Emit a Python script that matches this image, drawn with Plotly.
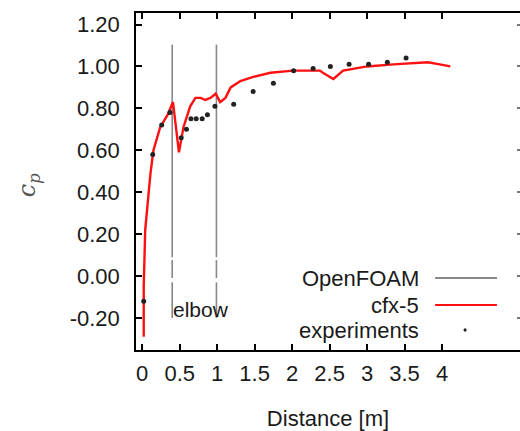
import plotly.graph_objects as go

# cfx-5 pressure coefficient curve
cfx_x = [0.02, 0.02, 0.04, 0.11, 0.15, 0.24, 0.34, 0.41, 0.49, 0.55, 0.64, 0.71, 0.78, 0.84,
         0.91, 0.98, 1.04, 1.11, 1.18, 1.31, 1.48, 1.71, 2.01, 2.37, 2.41, 2.51, 2.55, 2.68,
         3.00, 3.35, 3.71, 3.81, 3.97, 4.11]
cfx_y = [-0.29, -0.05, 0.22, 0.49, 0.60, 0.71, 0.77, 0.83, 0.59, 0.71, 0.81, 0.85, 0.85, 0.84,
         0.85, 0.87, 0.83, 0.85, 0.90, 0.93, 0.95, 0.97, 0.98, 0.98, 0.97, 0.95, 0.94, 0.98,
         1.00, 1.01, 1.02, 1.02, 1.01, 1.00]

# experiments
exp_x = [0.02, 0.14, 0.26, 0.37, 0.52, 0.59, 0.65, 0.72, 0.80, 0.87, 0.97, 1.22, 1.48, 1.75,
         2.02, 2.28, 2.51, 2.76, 3.02, 3.27, 3.52]
exp_y = [-0.12, 0.58, 0.72, 0.78, 0.66, 0.70, 0.75, 0.75, 0.75, 0.77, 0.81, 0.82, 0.88, 0.92,
         0.98, 0.99, 1.00, 1.01, 1.01, 1.02, 1.04]

# elbow markers
elbow_x = [0.40, 0.99]
elbow_segments = [(1.104, 0.09), (0.076, -0.01), (-0.03, -0.20)]

x_ticks = [0, 0.5, 1, 1.5, 2, 2.5, 3, 3.5, 4]
x_ticktext = ["0", "0.5", "1", "1.5", "2", "2.5", "3", "3.5", "4"]
y_ticks = [-0.2, 0.0, 0.2, 0.4, 0.6, 0.8, 1.0, 1.2]
y_ticktext = ["-0.20", "0.00", "0.20", "0.40", "0.60", "0.80", "1.00", "1.20"]

FONT = "Liberation Sans, Arial, sans-serif"
TXT = "#1a1a1a"
GRAY = "#888888"
RED = "#ff1010"

ex, ey = [], []
for xv in elbow_x:
    for a, b in elbow_segments:
        ex += [xv, xv, None]
        ey += [a, b, None]

fig = go.Figure()
fig.add_trace(go.Scatter(x=ex, y=ey, mode="lines", line=dict(color=GRAY, width=1.6),
                         showlegend=False, hoverinfo="skip"))
fig.add_trace(go.Scatter(x=cfx_x, y=cfx_y, mode="lines", name="cfx-5",
                         line=dict(color=RED, width=2.4), showlegend=False))
fig.add_trace(go.Scatter(x=exp_x, y=exp_y, mode="markers", name="experiments",
                         marker=dict(color="#222222", size=5, symbol="circle"), showlegend=False))

xr = [-0.083, 5.04]
yr = [-0.353, 1.255]

fig.update_layout(
    width=520, height=431,
    margin=dict(l=136, r=0, t=13, b=81),
    paper_bgcolor="white", plot_bgcolor="white",
    font=dict(family=FONT, size=22, color=TXT),
    xaxis=dict(range=xr, tickvals=x_ticks, ticktext=x_ticktext, ticks="inside", ticklen=6,
               tickwidth=1.5, tickcolor="black", showline=True, linecolor="black", linewidth=1.5,
               mirror="ticks", showgrid=False, zeroline=False, ticklabelstandoff=3,
               tickfont=dict(family=FONT, size=22, color=TXT),
               title=dict(text="Distance [m]", font=dict(family=FONT, size=22, color=TXT), standoff=28)),
    yaxis=dict(range=yr, tickvals=y_ticks, ticktext=y_ticktext, ticks="inside", ticklen=6,
               tickwidth=1.5, tickcolor="black", showline=True, linecolor="black", linewidth=1.5,
               showgrid=False, zeroline=False, ticklabelstandoff=10,
               tickfont=dict(family=FONT, size=22, color=TXT)),
    yaxis2=dict(range=yr, overlaying="y", side="right", tickvals=y_ticks, ticks="inside",
                ticklen=3, tickwidth=1.5, tickcolor="#777777", showticklabels=False,
                showline=False, showgrid=False, zeroline=False),
    showlegend=False,
)
fig.add_trace(go.Scatter(x=[None], y=[None], yaxis="y2", showlegend=False, hoverinfo="skip"))

# y-axis label
fig.add_annotation(text="<i>c<sub>p</sub></i>", xref="paper", yref="paper",
                   x=-0.28, y=0.49, xanchor="center", yanchor="middle", showarrow=False,
                   textangle=-90,
                   font=dict(family="DejaVu Serif, serif", size=24, color="#555555"))
# elbow label
fig.add_annotation(text="elbow", xref="x", yref="y", x=0.39, y=-0.16, xanchor="left",
                   showarrow=False, font=dict(family=FONT, size=21, color=TXT))

# manual legend (text right-aligned, sample to the right)
leg_rows = [("OpenFOAM", "line", GRAY, 0.2136), ("cfx-5", "line", RED, 0.1335),
            ("experiments", "dot", "#222222", 0.0593)]
for label, kind, col, yp in leg_rows:
    fig.add_annotation(text=label, xref="paper", yref="paper", x=0.742, y=yp,
                       xanchor="right", yanchor="middle", showarrow=False,
                       font=dict(family=FONT, size=22, color=TXT))
    if kind == "line":
        fig.add_shape(type="line", xref="paper", yref="paper", x0=0.779, x1=0.940, y0=yp, y1=yp,
                      line=dict(color=col, width=2))
    else:
        fig.add_shape(type="circle", xref="paper", yref="paper", x0=0.853, x1=0.861,
                      y0=yp - 0.005, y1=yp + 0.005, fillcolor=col, line=dict(color=col, width=0))

fig.write_html("out.html", config={"displayModeBar": False},
               post_script="document.body.style.margin='0';document.body.style.overflow='hidden';")
